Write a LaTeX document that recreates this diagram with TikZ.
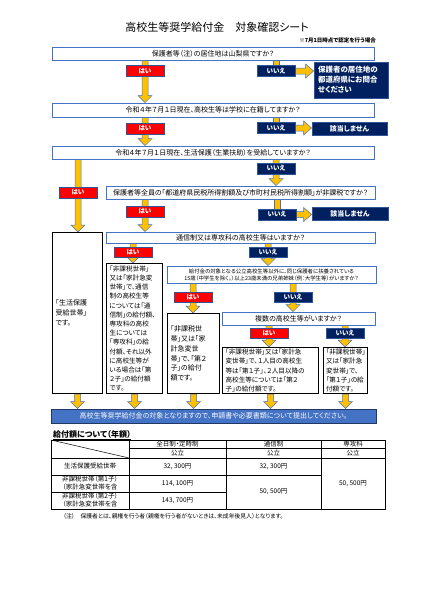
\documentclass[tikz,border=0pt]{standalone}
\usepackage{fontspec}
\setmainfont{Noto Sans CJK JP}[RawFeature=+palt]
\usetikzlibrary{calc,backgrounds}
\definecolor{qblue}{RGB}{68,114,196}
\definecolor{edgeblue}{RGB}{47,85,151}
\definecolor{yesred}{RGB}{255,0,0}
\definecolor{navy}{RGB}{0,32,96}
\definecolor{gold}{RGB}{255,192,0}
\definecolor{barblue}{RGB}{68,114,196}
\definecolor{bardark}{RGB}{31,56,100}
\tikzset{
  qbox/.style   ={draw=qblue, line width=0.8pt, fill=white, inner sep=0pt, align=center,
                  font=\fontsize{7}{8}\selectfont},
  yesbox/.style ={fill=yesred, draw=edgeblue, line width=0.6pt, text=white, inner sep=0pt,
                  minimum width=38pt, minimum height=11pt, font=\fontsize{6.5}{7}\selectfont\bfseries},
  nobox/.style  ={yesbox, fill=navy},
  endbox/.style ={fill=navy, draw=edgeblue, line width=0.8pt, text=white, inner sep=0pt,
                  font=\fontsize{7}{10}\selectfont\bfseries},
  resbox/.style ={draw=black, line width=1.1pt, fill=white, align=left, anchor=north west,
                  inner xsep=3pt, inner ysep=0pt, font=\fontsize{6.6}{9.2}\selectfont},
  barbox/.style ={fill=barblue, draw=bardark, line width=1pt, text=white, inner sep=0pt,
                  font=\fontsize{7}{8}\selectfont},
  tcell/.style  ={inner sep=0pt, align=center, font=\fontsize{6.5}{8}\selectfont},
  darr/.style   ={fill=gold, draw=qblue, line width=0.5pt,
                  to path={let \p1=(\tikztostart), \p2=(\tikztotarget) in
                    (\x1-3pt,\y1) -- (\x1-3pt,\y2+7pt) -- (\x1-7pt,\y2+7pt) -- (\x1,\y2)
                    -- (\x1+7pt,\y2+7pt) -- (\x1+3pt,\y2+7pt) -- (\x1+3pt,\y1) -- cycle}},
  rarr/.style   ={fill=gold, draw=qblue, line width=0.5pt,
                  to path={let \p1=(\tikztostart), \p2=(\tikztotarget) in
                    (\x1,\y1-3pt) -- (\x2-8pt,\y1-3pt) -- (\x2-8pt,\y1-7pt) -- (\x2,\y1)
                    -- (\x2-8pt,\y1+7pt) -- (\x2-8pt,\y1+3pt) -- (\x1,\y1+3pt) -- cycle}},
  stub/.style   ={fill=gold, draw=qblue, line width=0.5pt,
                  to path={let \p1=(\tikztostart), \p2=(\tikztotarget) in
                    (\x1-3pt,\y1) -- (\x1-3pt,\y2) -- (\x1+3pt,\y2) -- (\x1+3pt,\y1) -- cycle}},
}

\begin{document}
\begin{tikzpicture}[x=1pt,y=-1pt]
\useasboundingbox (0,0) rectangle (424,600);

\node[font=\fontsize{11}{13}\selectfont] (ttl) at (217,27) {高校生等奨学給付金　対象確認シート};
\node[anchor=east, inner sep=0pt, font=\fontsize{5.5}{6}\selectfont\bfseries] (memo) at (376,40) {※7月1日時点で認定を行う場合};

\node[qbox, minimum width=322pt, minimum height=13pt] (q1) at (213,53.5) {保護者等（注）の居住地は山梨県ですか？};
\node[yesbox] (y1) at (145,71) {はい};
\node[nobox]  (n1) at (276,71) {いいえ};
\node[endbox, align=left, minimum width=74pt, minimum height=36pt, text width=66pt,
      font=\fontsize{7.5}{10}\selectfont\bfseries] (info1) at (351,80) {保護者の居住地の\\都道府県にお問合\\せください};

\node[qbox, minimum width=322pt, minimum height=14pt] (q2) at (213,110) {令和４年７月１日現在、高校生等は学校に在籍してますか？};
\node[yesbox] (y2) at (145,128.5) {はい};
\node[nobox]  (n2) at (276,128) {いいえ};
\node[endbox, minimum width=75pt, minimum height=13pt] (none2) at (349.5,128.5) {該当しません};

\node[qbox, minimum width=322pt, minimum height=13pt] (q3) at (213,152.5) {令和４年７月１日現在、生活保護（生業扶助）を受給していますか？};
\node[nobox]  (n3) at (276,168.5) {いいえ};
\node[yesbox] (y3) at (78,192.5) {はい};

\node[qbox, minimum width=269pt, minimum height=13pt] (q4) at (240.5,192.5) {保護者等全員の「都道府県民税所得割額及び市町村民税所得割額」が非課税ですか？};
\node[yesbox] (y4) at (145,211.5) {はい};
\node[nobox]  (n4) at (277,214.5) {いいえ};
\node[endbox, minimum width=76pt, minimum height=13pt] (none4) at (350,213.5) {該当しません};

\node[qbox, minimum width=269pt, minimum height=11pt] (q5) at (240.5,237.5) {通信制又は専攻科の高校生等はいますか？};
\node[yesbox, minimum height=10pt] (y5) at (133,252.5) {はい};
\node[nobox, minimum height=10pt]  (n5) at (268,252.5) {いいえ};

\node[qbox, minimum width=209pt, minimum height=17pt, font=\fontsize{5.4}{7}\selectfont] (q6) at (271.5,274.5) {給付金の対象となる公立高校生等以外に、同じ保護者に扶養されている\\15歳（中学生を除く。）以上23歳未満の兄弟姉妹（例：大学生等）がいますか？};
\node[yesbox, minimum height=10pt] (y6) at (193,297.5) {はい};
\node[nobox, minimum height=10pt]  (n6) at (293,297.5) {いいえ};

\node[qbox, minimum width=153pt, minimum height=13pt] (q7) at (298.5,318.5) {複数の高校生等がいますか？};
\node[yesbox, minimum height=10pt] (y7) at (269,333) {はい};
\node[nobox, minimum height=10pt]  (n7) at (345,333) {いいえ};

\node[resbox, text width=44pt, minimum height=161pt, font=\fontsize{7}{10}\selectfont] (r0) at (52,232) {「生活保護\\受給世帯」\\です。};
\node[resbox, text width=50pt, minimum height=130pt] (rA) at (106,263) {「非課税世帯」\\又は「家計急変\\世帯」で、通信\\制の高校生等\\については「通\\信制」の給付額、\\専攻科の高校\\生については\\「専攻科」の給\\付額、それ以外\\に高校生等が\\いる場合は「第\\２子」の給付額\\です。};
\node[resbox, text width=46pt, minimum height=80pt, font=\fontsize{7}{9.8}\selectfont] (rB) at (167,313) {「非課税世\\帯」又は「家\\計急変世\\帯」で、「第２\\子」の給付\\額です。};
\node[resbox, text width=90pt, minimum height=46pt] (rC) at (222,347) {「非課税世帯」又は「家計急\\変世帯」で、１人目の高校生\\等は「第１子」、２人目以降の\\高校生等については「第２\\子」の給付額です。};
\node[resbox, text width=39pt, inner xsep=2.5pt, minimum height=46pt] (rD) at (323,347) {「非課税世帯」\\又は「家計急\\変世帯」で、\\「第１子」の給\\付額です。};

\node[barbox, minimum width=325pt, minimum height=14pt] (goal) at (213.5,416) {高校生等奨学給付金の対象となりますので、申請書や必要書類について提出してください。};

\begin{scope}[on background layer]
\draw[darr] (q1.south -| y1) to (q2.north -| y1);
\draw[stub] (q1.south -| n1) to (n1.center);
\draw[rarr] (n1.east) to (info1.west);
\draw[darr] (q2.south -| y2) to (q3.north -| y2);
\draw[stub] (q2.south -| n2) to (n2.center);
\draw[rarr] (n2.east) to (none2.west);
\draw[darr] (q3.south -| y3) to (r0.north -| y3);
\draw[darr] (q3.south -| n3) to (q4.north -| n3);
\draw[darr] (q4.south -| y4) to (q5.north -| y4);
\draw[stub] (q4.south -| n4) to (n4.center);
\draw[rarr] (n4.east) to (none4.west);
\draw[darr] (q5.south -| y5) to (rA.north -| y5);
\draw[darr] (q5.south -| n5) to (q6.north -| n5);
\draw[darr] (q6.south -| y6) to (rB.north -| y6);
\draw[darr] (q6.south -| n6) to (q7.north -| n6);
\draw[darr] (q7.south -| y7) to (rC.north -| y7);
\draw[darr] (q7.south -| n7) to (rD.north -| n7);
\foreach \b in {r0,rA,rB,rC,rD}
  \draw[darr] (\b.south) to (\b.south |- goal.north);
\end{scope}

\node[anchor=base west, inner sep=0pt, font=\fontsize{8}{9}\selectfont\bfseries] (amt) at (53,437) {\underline{給付額について（年額）}};

\draw[line width=1pt] (51,440) rectangle (385,509);
\draw[line width=0.5pt] (129,440) -- (129,509) (226,440) -- (226,509) (321,440) -- (321,509);
\draw[line width=0.5pt] (129,448) -- (385,448);
\draw[line width=0.8pt] (51,458) -- (385,458);
\draw[line width=0.5pt] (51,475) -- (321,475) (51,492) -- (226,492);
\draw[line width=0.5pt] (51,440) -- (129,458);

\node[tcell] (h1) at (177.5,444) {全日制・定時制};
\node[tcell] (h2) at (273.5,444) {通信制};
\node[tcell] (h3) at (353,444) {専攻科};
\node[tcell] (p1) at (177.5,453) {公立};
\node[tcell] (p2) at (273.5,453) {公立};
\node[tcell] (p3) at (353,453) {公立};
\node[tcell] (k1) at (90,466.5) {生活保護受給世帯};
\node[tcell] (k2) at (90,483.5) {非課税世帯（第1子）\\（家計急変世帯を含};
\node[tcell] (k3) at (90,500.5) {非課税世帯（第2子）\\（家計急変世帯を含};
\node[tcell] (v11) at (177.5,466.5) {32, 300円};
\node[tcell] (v12) at (273.5,466.5) {32, 300円};
\node[tcell] (v13) at (353,483.5) {50, 500円};
\node[tcell] (v21) at (177.5,483.5) {114, 100円};
\node[tcell] (v31) at (177.5,500.5) {143, 700円};
\node[tcell] (v22) at (273.5,492) {50, 500円};

\node[anchor=west, inner sep=0pt, font=\fontsize{5.8}{7}\selectfont] (note) at (63,516) {（注）　保護者とは、親権を行う者（親権を行う者がないときは、未成年後見人）となります。};
\end{tikzpicture}
\end{document}
